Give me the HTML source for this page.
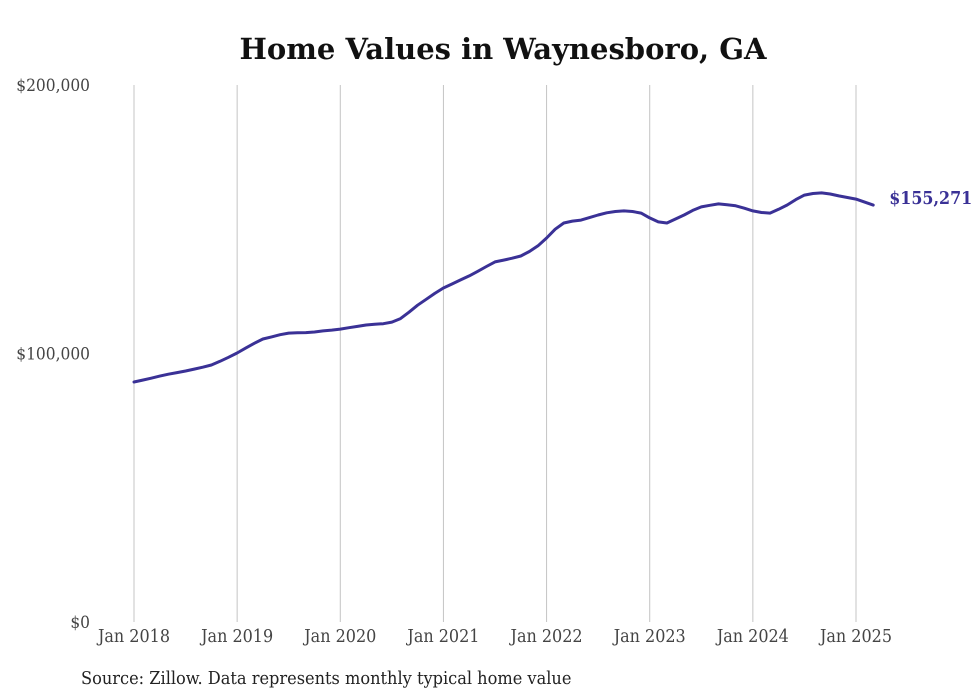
<!DOCTYPE html>
<html><head><meta charset="utf-8">
<style>
html,body{margin:0;padding:0;background:#fff;}
svg{display:block;}
text{font-family:"DejaVu Serif","Liberation Serif",serif;font-stretch:condensed;}
</style></head>
<body>
<svg width="980" height="699" viewBox="0 0 980 699">
<text x="503" y="59" text-anchor="middle" font-size="29" font-weight="bold" fill="#111" style="font-stretch:normal">Home Values in Waynesboro, GA</text>
<g id="grid"></g>
<g id="yaxis"></g>
<g id="xaxis"></g>
<path id="line" fill="none" stroke="#3a3196" stroke-width="3" stroke-linejoin="round" stroke-linecap="round"/>
<text id="endlabel" font-size="17.7" font-weight="bold" fill="#3a3196"></text>
<text x="81" y="684" font-size="18" fill="#222">Source: Zillow. Data represents monthly typical home value</text>
</svg>
<script>
const startYear = 2018;
const xTickLabels = ["Jan 2018","Jan 2019","Jan 2020","Jan 2021","Jan 2022","Jan 2023","Jan 2024","Jan 2025"];
const yTickValues = [0, 100000, 200000];
const yTickLabels = ["$0","$100,000","$200,000"];
const values = [
89.4,90.1,90.8,91.6,92.3,92.9,93.5,94.2,94.9,95.7,97.1,98.6,
100.2,102.0,103.8,105.4,106.2,107.0,107.6,107.7,107.8,108.0,108.4,108.7,
109.1,109.6,110.1,110.6,110.9,111.1,111.7,113.0,115.4,118.0,120.2,122.4,
124.4,125.9,127.4,128.9,130.6,132.4,134.1,134.8,135.5,136.3,138.0,140.1,
143.0,146.3,148.6,149.3,149.7,150.6,151.6,152.4,152.9,153.1,152.9,152.3,
150.5,149.0,148.6,150.1,151.6,153.3,154.6,155.2,155.7,155.4,155.0,154.1,
153.1,152.5,152.3,153.7,155.3,157.3,159.0,159.6,159.8,159.4,158.7,158.1,
157.5,156.4,155.271
];
const lastLabel = "$155,271";

const NS = "http://www.w3.org/2000/svg";
function xScale(monthIndex){ return 134 + monthIndex * (856-134)/84; }
function yScale(v){ return 622 - v * (622-85)/200000; }

const grid = document.getElementById('grid');
const xaxis = document.getElementById('xaxis');
xTickLabels.forEach((lab,i)=>{
  const x = xScale(i*12);
  const l = document.createElementNS(NS,'line');
  
  
  l.setAttribute('x1',x); l.setAttribute('x2',x);
  l.setAttribute('y1',85); l.setAttribute('y2',622);
  l.setAttribute('stroke','#c4c4c4'); l.setAttribute('stroke-width','1');
  grid.appendChild(l);
  const t = document.createElementNS(NS,'text');
  
  
  t.setAttribute('x',x); t.setAttribute('y',642);
  t.setAttribute('text-anchor','middle');
  t.setAttribute('font-size','17.8'); t.setAttribute('fill','#444');
  t.textContent = lab;
  xaxis.appendChild(t);
});
const yaxis = document.getElementById('yaxis');
yTickValues.forEach((v,i)=>{
  const t = document.createElementNS(NS,'text');
  
  
  t.setAttribute('x',90); t.setAttribute('y',yScale(v)+6);
  t.setAttribute('text-anchor','end');
  t.setAttribute('font-size','17.2'); t.setAttribute('fill','#444');
  t.textContent = yTickLabels[i];
  yaxis.appendChild(t);
});
let d = '';
values.forEach((v,i)=>{
  d += (i?'L':'M') + xScale(i).toFixed(1) + ',' + yScale(v*1000).toFixed(1);
});
document.getElementById('line').setAttribute('d', d);
const el = document.getElementById('endlabel');
const li = values.length-1;
el.setAttribute('x', xScale(li)+16);
el.setAttribute('y', yScale(values[li]*1000)-1);
el.textContent = lastLabel;
</script>
</body></html>
